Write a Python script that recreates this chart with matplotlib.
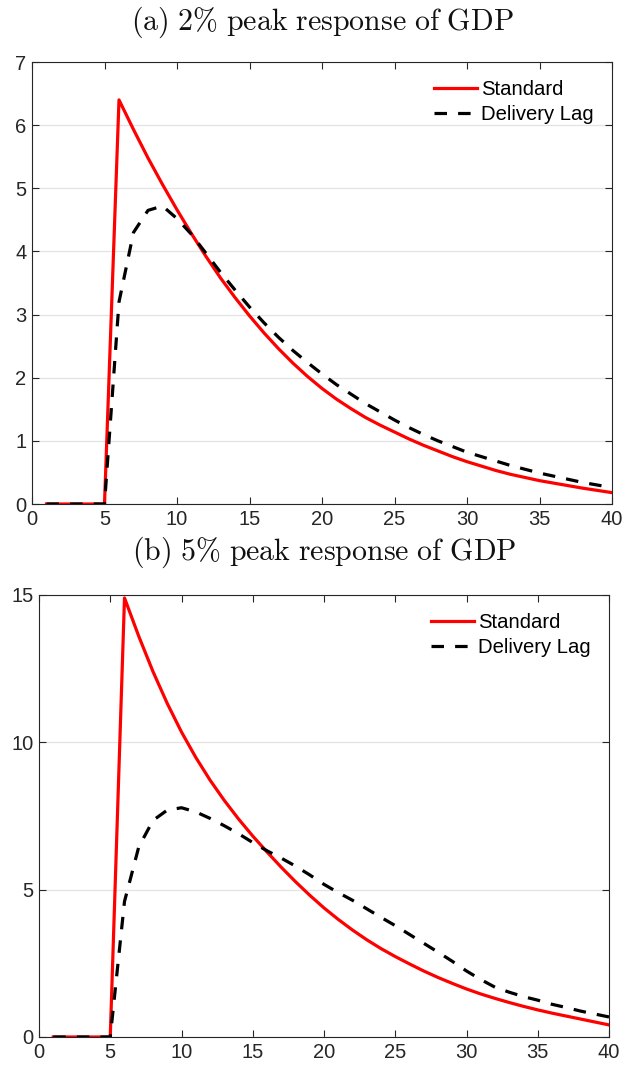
import matplotlib
matplotlib.use("Agg")
import matplotlib.pyplot as plt

# ---------------- data ----------------
periods = list(range(1, 41))

std_2pct = [0, 0, 0, 0, 0,
            6.40, 5.93, 5.48, 5.06, 4.66, 4.28, 3.92, 3.58, 3.27, 2.98,
            2.71, 2.46, 2.23, 2.02, 1.83, 1.66, 1.51, 1.37, 1.25, 1.14,
            1.03, 0.93, 0.84, 0.75, 0.67, 0.60, 0.53, 0.47, 0.42, 0.37,
            0.33, 0.29, 0.25, 0.215, 0.18]

lag_2pct = [0, 0, 0, 0, 0,
            3.20, 4.30, 4.65, 4.72, 4.52, 4.27, 3.97, 3.67, 3.39, 3.12,
            2.87, 2.64, 2.43, 2.24, 2.06, 1.89, 1.74, 1.59, 1.46, 1.33,
            1.21, 1.10, 1.00, 0.91, 0.82, 0.75, 0.68, 0.61, 0.55, 0.49,
            0.44, 0.39, 0.34, 0.30, 0.26]

std_5pct = [0, 0, 0, 0, 0,
            14.9, 13.6, 12.4, 11.32, 10.35, 9.49, 8.72, 8.03, 7.40, 6.82,
            6.28, 5.76, 5.27, 4.81, 4.38, 3.99, 3.63, 3.30, 3.00, 2.73,
            2.48, 2.24, 2.02, 1.82, 1.63, 1.46, 1.31, 1.17, 1.04, 0.92,
            0.81, 0.71, 0.61, 0.51, 0.41]

lag_5pct = [0, 0, 0, 0, 0,
            4.60, 6.45, 7.35, 7.70, 7.78, 7.64, 7.42, 7.17, 6.90, 6.60,
            6.32, 6.07, 5.80, 5.50, 5.18, 4.90, 4.64, 4.35, 4.06, 3.78,
            3.48, 3.18, 2.88, 2.57, 2.24, 1.95, 1.69, 1.52, 1.37, 1.25,
            1.11, 1.00, 0.88, 0.78, 0.68]

titles = [r"$\mathrm{(a)\ 2\%\ peak\ response\ of\ GDP}$",
          r"$\mathrm{(b)\ 5\%\ peak\ response\ of\ GDP}$"]
legend_labels = ["Standard", "Delivery Lag"]
xticks = [0, 5, 10, 15, 20, 25, 30, 35, 40]
yticks_a = [0, 1, 2, 3, 4, 5, 6, 7]
yticks_b = [0, 5, 10, 15]

# ---------------- style ----------------
plt.rcParams['font.family'] = ['Liberation Sans', 'DejaVu Sans']
plt.rcParams['mathtext.fontset'] = 'cm'
plt.rcParams['lines.scale_dashes'] = False

fig = plt.figure(figsize=(6.24, 10.70), dpi=100)

W, H = 624.0, 1070.0
def rect(l, r, t, b):
    return [l / W, 1 - b / H, (r - l) / W, (b - t) / H]

ax1 = fig.add_axes(rect(32, 612, 62, 504))
ax2 = fig.add_axes(rect(39, 609, 595, 1037))

panels = [(ax1, std_2pct, lag_2pct, yticks_a, 7, 23),
          (ax2, std_5pct, lag_5pct, yticks_b, 15, 25)]

for i, (ax, s, d, yt, ymax, tpad) in enumerate(panels):
    ax.plot(periods, s, color='#ff0000', lw=2.3, label=legend_labels[0],
            solid_joinstyle='round')
    ax.plot(periods, d, color='black', lw=2.3, dashes=(9, 8),
            dash_capstyle='butt', label=legend_labels[1])
    ax.set_xlim(0, 40)
    ax.set_ylim(0, ymax)
    ax.set_xticks(xticks)
    ax.set_yticks(yt)
    ax.yaxis.grid(True, color='#e3e3e3', lw=0.9)
    ax.set_axisbelow(True)
    ax.tick_params(direction='in', top=True, right=True, length=5,
                   width=0.8, color='#262626', labelsize=14.5,
                   labelcolor='#262626', pad=4)
    for sp in ax.spines.values():
        sp.set_color('#262626')
        sp.set_linewidth(0.8)
    ax.legend(loc='upper right', frameon=False, fontsize=14.6,
              handlelength=2.1, handletextpad=0.2,
              borderaxespad=0.5, labelspacing=0.3)
    ax.set_title(titles[i], fontsize=21.5, pad=tpad, color='#111111')

fig.savefig("out.png", dpi=100)
